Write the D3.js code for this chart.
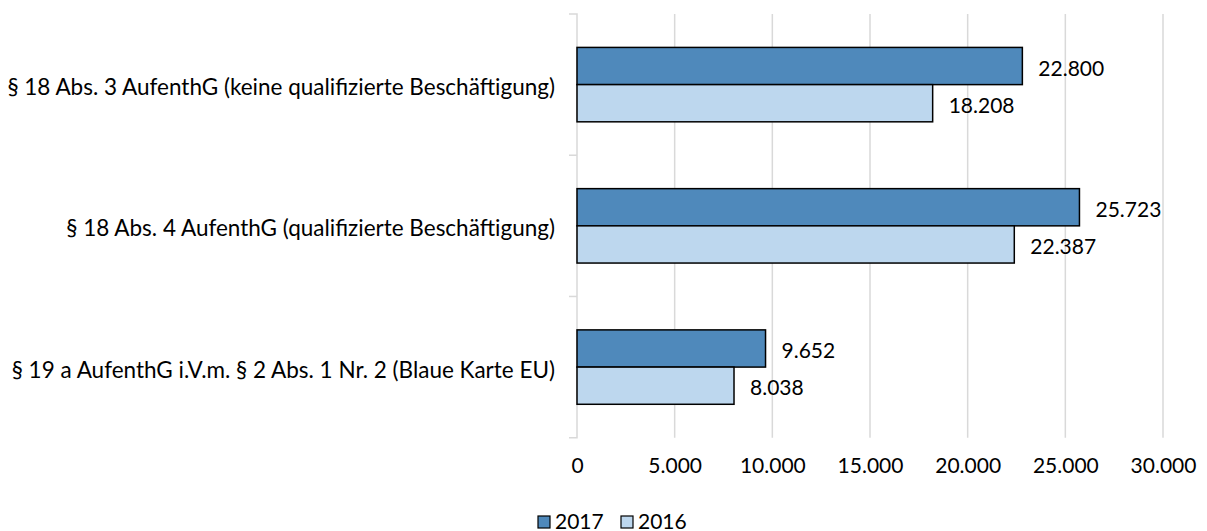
<!DOCTYPE html>
<html><head><meta charset="utf-8">
<script src="https://cdn.jsdelivr.net/npm/d3@7"></script>
<style>body{margin:0;background:#fff;} svg{display:block;} text{font-family:"Lato","Open Sans",sans-serif;fill:#000;}</style>
</head><body><svg id="c" width="1207" height="531"></svg>
<script>
const categories = [
  "§ 18 Abs. 3 AufenthG (keine qualifizierte Beschäftigung)",
  "§ 18 Abs. 4 AufenthG (qualifizierte Beschäftigung)",
  "§ 19 a AufenthG i.V.m. § 2 Abs. 1 Nr. 2 (Blaue Karte EU)"
];
const seriesNames = ["2017", "2016"];
const values2017 = [22800, 25723, 9652];
const values2016 = [18208, 22387, 8038];
const tickValues = [0, 5000, 10000, 15000, 20000, 25000, 30000];
const tickLabels = ["0", "5.000", "10.000", "15.000", "20.000", "25.000", "30.000"];
const colors = ["#4f89bb", "#bdd7ee"];

const fmt = v => d3.format(",")(v).replace(/,/g, ".");
const svg = d3.select("#c");
const x = d3.scaleLinear().domain([0, 30000]).range([577, 1163]);
const y = d3.scaleBand().domain(categories).range([14, 437.7]);
const inner = d3.scaleBand().domain(seriesNames).range([0, 74.4]);
const groupOffset = (y.bandwidth() - 74.4) / 2;

// gridlines
svg.append("g").selectAll("line").data(tickValues.slice(1)).join("line")
  .attr("x1", d => x(d)).attr("x2", d => x(d))
  .attr("y1", 14).attr("y2", 437.7)
  .attr("stroke", "#d9d9d9").attr("stroke-width", 1.5);

// category axis
const yAxis = d3.axisLeft(y).tickSize(8).tickFormat("");
const ya = svg.append("g").attr("transform", `translate(${x(0)},0)`).call(yAxis);
ya.select(".domain").attr("stroke", "#d9d9d9").attr("stroke-width", 1.5).attr("d", `M-8,14H0V437.7H-8`);
ya.selectAll(".tick line").attr("stroke", "#d9d9d9").attr("stroke-width", 1.5)
  .attr("transform", `translate(0,${-y.bandwidth()/2})`);
ya.selectAll(".tick").filter((d, i) => i === 0).remove();

// category labels
svg.append("g").selectAll("text").data(categories).join("text")
  .attr("x", 555).attr("y", d => y(d) + y.bandwidth() / 2 + 2)
  .attr("text-anchor", "end").attr("dominant-baseline", "central")
  .style("font-size", "22.5px").text(d => d);

// value axis labels
const xAxis = d3.axisBottom(x).tickValues(tickValues).tickSize(0)
  .tickFormat((d, i) => tickLabels[i]);
const xa = svg.append("g").attr("transform", "translate(0,455)").call(xAxis);
xa.select(".domain").remove();
xa.selectAll("text").style("font-size", "21px").style("font-family", "Lato, 'Open Sans', sans-serif").attr("fill", "#000");

// bars
const series = [values2017, values2016];
series.forEach((vals, si) => {
  const g = svg.append("g");
  g.selectAll("rect").data(vals).join("rect")
    .attr("x", x(0))
    .attr("y", (d, i) => y(categories[i]) + groupOffset + inner(seriesNames[si]))
    .attr("width", d => x(d) - x(0))
    .attr("height", inner.bandwidth())
    .attr("fill", colors[si]).attr("stroke", "#000").attr("stroke-width", 1.5);
  g.selectAll("text").data(vals).join("text")
    .attr("x", d => x(d) + 16)
    .attr("y", (d, i) => y(categories[i]) + groupOffset + inner(seriesNames[si]) + inner.bandwidth() / 2 + 1)
    .attr("dominant-baseline", "central")
    .style("font-size", "21px").text(d => fmt(d));
});

// legend
const leg = svg.append("g");
const legX = [538, 621];
seriesNames.forEach((n, i) => {
  leg.append("rect").attr("x", legX[i]).attr("y", 516).attr("width", 12).attr("height", 12)
    .attr("fill", colors[i]).attr("stroke", "#000").attr("stroke-width", 1.2);
  leg.append("text").attr("x", legX[i] + 17).attr("y", 520).attr("dominant-baseline", "central")
    .style("font-size", "21px").text(n);
});
</script></body></html>
